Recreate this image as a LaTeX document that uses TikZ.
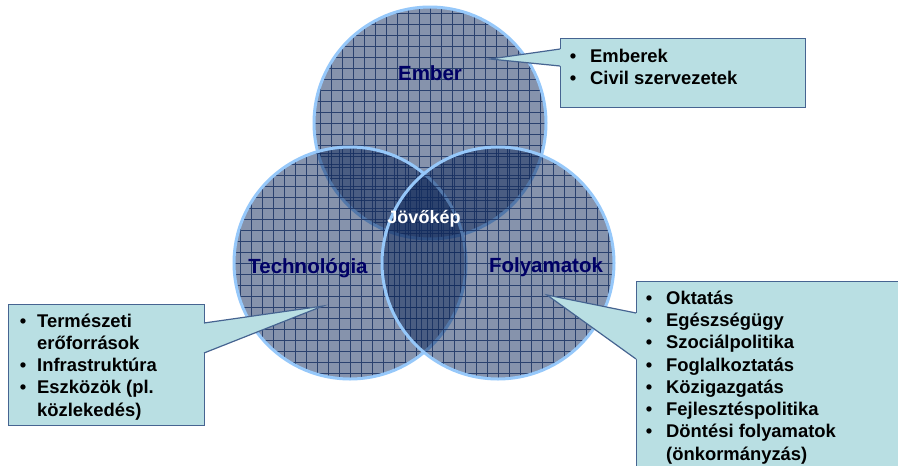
\documentclass[tikz,border=0pt]{standalone}
\usepackage{fontspec}
\setmainfont{Liberation Sans}
\definecolor{vennfill}{RGB}{15,40,90}
\definecolor{vennedge}{RGB}{150,200,250}
\definecolor{gridcol}{RGB}{20,45,95}
\definecolor{labelcol}{RGB}{0,0,102}
\definecolor{boxfill}{RGB}{185,223,227}
\definecolor{boxline}{RGB}{70,100,145}
\begin{document}
\begin{tikzpicture}[x=1pt,y=-1pt,
  venn/.style={circle, minimum size=232pt, inner sep=0pt, fill=vennfill, fill opacity=0.5,
    draw=vennedge, draw opacity=1, line width=3pt},
  vgrid/.style={draw=gridcol, draw opacity=0.8, line width=0.8pt},
  bigl/.style={font=\fontsize{20.5}{24}\selectfont\bfseries, text=labelcol, anchor=base, inner sep=0pt},
  midl/.style={font=\fontsize{18}{22}\selectfont\bfseries, text=white, anchor=base, inner sep=0pt},
  cbox/.style={rectangle, fill=boxfill, draw=boxline, line width=1.2pt, anchor=north west, inner sep=0pt},
  itm/.style={font=\fontsize{18.4}{22}\selectfont\bfseries, anchor=base west, inner sep=0pt},
  bul/.style={font=\fontsize{18.4}{22}\selectfont\bfseries, anchor=base, inner sep=0pt},
  ptr/.style={draw=boxline, line width=1.2pt},
]
\useasboundingbox (0,0) rectangle (898,466);
\fill[white] (0,0) rectangle (898,466);

% Venn circles
\node[venn, path picture={\draw[vgrid] (path picture bounding box.south west) grid[step=11pt] (path picture bounding box.north east);}] (ember) at (430,123) {};
\node[venn, path picture={\draw[vgrid, shift={(5.5pt,5.5pt)}] (path picture bounding box.south west) grid[step=11pt] (path picture bounding box.north east);}] (tech) at (350,263) {};
\node[venn, path picture={\draw[vgrid, shift={(5.5pt,0pt)}] (path picture bounding box.south west) grid[step=11pt] (path picture bounding box.north east);}] (foly) at (498,263) {};

% circle labels
\node[bigl] (lember) at (430,80) {Ember};
\node[bigl] (ltech) at (308,273) {Technológia};
\node[bigl] (lfoly) at (546,272) {Folyamatok};
\node[midl] (ljovo) at (424,223) {Jövőkép};

% Callout 1 (Ember)
\node[cbox, minimum width=245pt, minimum height=69pt] (b1) at (560,38) {};
\coordinate (t1) at (490,59);
\coordinate (p1a) at (560,49);
\coordinate (p1b) at (560,66);
\fill[boxfill] (t1) -- (p1a) -- ([xshift=2pt]p1a) -- ([xshift=2pt]p1b) -- (p1b) -- cycle;
\draw[ptr] (p1a) -- (t1) -- (p1b);
\node[bul] (b1u1) at (573,62) {•};
\node[itm] (b1i1) at (590,62) {Emberek};
\node[bul] (b1u2) at (573,84) {•};
\node[itm] (b1i2) at (590,84) {Civil szervezetek};

% Callout 2 (Technologia)
\node[cbox, minimum width=196pt, minimum height=121pt] (b2) at (8,304) {};
\coordinate (t2) at (323,306);
\coordinate (p2a) at (204,323);
\coordinate (p2b) at (204,353);
\fill[boxfill] (t2) -- (p2a) -- ([xshift=-2pt]p2a) -- ([xshift=-2pt]p2b) -- (p2b) -- cycle;
\draw[ptr] (p2a) -- (t2) -- (p2b);
\node[bul] (b2u1) at (23,327.3) {•};
\node[itm] (b2i1) at (37,327.3) {Természeti};
\node[itm] (b2i2) at (37,349.5) {erőforrások};
\node[bul] (b2u3) at (23,371.7) {•};
\node[itm] (b2i3) at (37,371.7) {Infrastruktúra};
\node[bul] (b2u4) at (23,393.9) {•};
\node[itm] (b2i4) at (37,393.9) {Eszközök (pl.};
\node[itm] (b2i5) at (37,416.1) {közlekedés)};

% Callout 3 (Folyamatok)
\node[cbox, minimum width=280pt, minimum height=200pt] (b3) at (636,281) {};
\coordinate (t3) at (547,295);
\coordinate (p3a) at (636,313);
\coordinate (p3b) at (636,359);
\fill[boxfill] (t3) -- (p3a) -- ([xshift=2pt]p3a) -- ([xshift=2pt]p3b) -- (p3b) -- cycle;
\draw[ptr] (p3a) -- (t3) -- (p3b);
\node[bul] (b3u1) at (649,304.3) {•};
\node[itm] (b3i1) at (666,304.3) {Oktatás};
\node[bul] (b3u2) at (649,326.5) {•};
\node[itm] (b3i2) at (666,326.5) {Egészségügy};
\node[bul] (b3u3) at (649,348.8) {•};
\node[itm] (b3i3) at (666,348.8) {Szociálpolitika};
\node[bul] (b3u4) at (649,371.0) {•};
\node[itm] (b3i4) at (666,371.0) {Foglalkoztatás};
\node[bul] (b3u5) at (649,393.3) {•};
\node[itm] (b3i5) at (666,393.3) {Közigazgatás};
\node[bul] (b3u6) at (649,415.5) {•};
\node[itm] (b3i6) at (666,415.5) {Fejlesztéspolitika};
\node[bul] (b3u7) at (649,437.8) {•};
\node[itm] (b3i7) at (666,437.8) {Döntési folyamatok};
\node[itm] (b3i8) at (666,460.0) {(önkormányzás)};
\end{tikzpicture}
\end{document}
